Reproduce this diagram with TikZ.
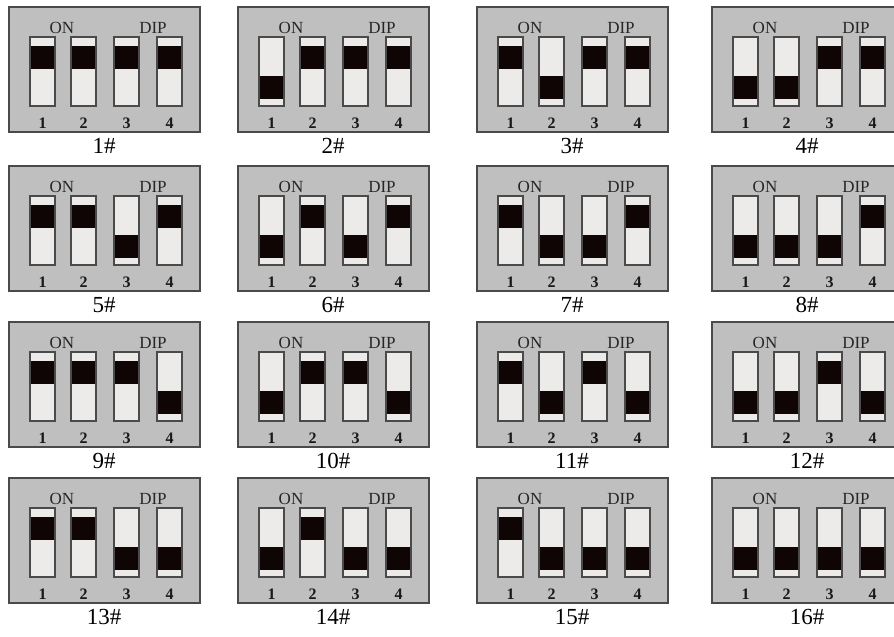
\documentclass[tikz,border=0pt]{standalone}
\usepackage{fontspec}
\setmainfont{Liberation Serif}
\usepackage{xcolor}
\usepackage{tikz}
\definecolor{panelgray}{HTML}{BFBFBF}
\definecolor{framegray}{HTML}{4A4A4A}
\definecolor{slotwhite}{HTML}{EDEAEA}
\definecolor{knobblack}{HTML}{0F0505}

\begin{document}
\begin{tikzpicture}[x=1pt,y=-1pt,
  panel/.style={draw=framegray,line width=1.3pt,fill=panelgray},
  slotbody/.style={fill=slotwhite},
  slotedge/.style={draw=framegray,line width=1.2pt},
  knob/.style={fill=knobblack},
  headtext/.style={inner sep=0pt,text=black!85,font=\fontsize{17}{17}\selectfont},
  numtext/.style={inner sep=0pt,text=black!90,font=\fontsize{16}{16}\selectfont\bfseries},
  captext/.style={inner sep=0pt,font=\fontsize{23}{23}\selectfont}]
  \useasboundingbox (0,0) rectangle (894,637);
  % 16 settings, switch 1 is the lowest bit, a set bit puts the knob down
  \foreach \n in {0,...,15}{
    \pgfmathtruncatemacro{\col}{mod(\n,4)}
    \pgfmathtruncatemacro{\row}{div(\n,4)}
    \pgfmathtruncatemacro{\num}{\n+1}
    \pgfmathsetmacro{\px}{{9,238,477,712}[\col]}
    \pgfmathsetmacro{\py}{{7,166,322,478}[\row]}
    \begin{scope}[shift={(\px,\py)}]
      \draw[panel] (0,0) rectangle (191,125);
      \node[headtext] (on\num) at (53,21) {ON};
      \node[headtext] (dip\num) at (144,21) {DIP};
      \foreach \s/\sx in {0/21,1/62,2/105,3/148}{
        \pgfmathtruncatemacro{\bit}{mod(floor(\n/2^\s),2)}
        \pgfmathsetmacro{\ky}{39+30*\bit}
        \pgfmathtruncatemacro{\sn}{\s+1}
        \fill[slotbody] (\sx,30) rectangle ++(25,69);
        \fill[knob] (\sx,\ky) rectangle ++(25,22.5);
        \draw[slotedge] (\sx,30) rectangle ++(25,69);
        \node[numtext] (sw\num-\sn) at (\sx+12.5,116) {\sn};
      }
      \node[captext] (cap\num) at (95,139) {\num\#};
    \end{scope}
  }
\end{tikzpicture}
\end{document}
